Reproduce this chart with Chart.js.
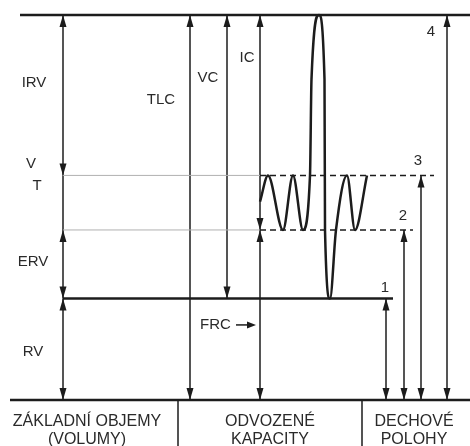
<!DOCTYPE html>
<html>
<head>
<meta charset="utf-8">
<script src="https://cdn.jsdelivr.net/npm/chart.js@4"></script>
<style>
  html, body { margin: 0; padding: 0; background: #fff; }
  #wrap { width: 470px; height: 446px; }
</style>
</head>
<body>
<div id="wrap"><canvas id="chart"></canvas></div>
<script>
// lung volume levels (arbitrary L): baseline, RV, FRC, end of tidal inspiration, TLC
const levels = [0, 1.58, 2.65, 3.5, 6.0];
const [BASE, RV_TOP, FRC_TOP, VT_TOP, TLC_TOP] = levels;

// spirogram trace (time in s, volume)
const traceTime = [26.0, 26.8, 28.3, 29.3, 30.3, 31.0, 31.15, 31.9, 32.45, 32.5, 33.0, 33.6, 34.7, 35.5, 36.7];
const traceVolume = [3.09, 3.5, 2.65, 3.5, 2.65, 3.5, 5.0, 6.0, 5.0, 2.65, 1.58, 2.65, 3.5, 2.65, 3.5];

// double-headed arrows: column position, lower level, upper level
const spanX = [6.3, 6.3, 6.3, 19.0, 22.7, 26.0, 26.0, 38.6, 40.4, 42.1, 44.7];
const spanFrom = [VT_TOP, RV_TOP, BASE, BASE, RV_TOP, FRC_TOP, BASE, BASE, BASE, BASE, BASE];
const spanTo = [TLC_TOP, FRC_TOP, RV_TOP, TLC_TOP, TLC_TOP, TLC_TOP, FRC_TOP, RV_TOP, FRC_TOP, VT_TOP, TLC_TOP];

// text labels
const labelText = ["IRV", "TLC", "VC", "IC", "V", "T", "ERV", "RV", "1", "2", "3", "4"];
const labelX = [3.4, 16.1, 20.8, 24.7, 3.1, 3.7, 3.3, 3.3, 38.5, 40.3, 41.8, 43.1];
const labelY = [4.94, 4.675, 5.02, 5.33, 3.68, 3.34, 2.15, 0.75, 1.745, 2.87, 3.725, 5.735];

// bottom categories
const groupNames = [["ZÁKLADNÍ OBJEMY", "(VOLUMY)"], ["ODVOZENÉ", "KAPACITY"], ["DECHOVÉ", "POLOHY"]];
const groupX = [8.7, 27.0, 41.4];
const dividerX = [17.8, 36.2];

const INK = "#1c1c1c";

function seg(x1, y1, x2, y2, width, color, dash) {
  return {
    data: [{ x: x1, y: y1 }, { x: x2, y: y2 }],
    borderColor: color || INK,
    borderWidth: width,
    borderDash: dash || [],
    pointRadius: 0,
    tension: 0,
    clip: false,
  };
}

const datasets = [];
// horizontal levels
datasets.push(seg(2.0, TLC_TOP, 47, TLC_TOP, 2.5));
datasets.push(seg(1.0, BASE, 47, BASE, 2.5));
datasets.push(seg(6.3, RV_TOP, 39.3, RV_TOP, 2.5));
datasets.push(seg(6.3, VT_TOP, 26.0, VT_TOP, 1, "#b0b0b0"));
datasets.push(seg(26.0, VT_TOP, 43.4, VT_TOP, 1.5, INK, [6, 4]));
datasets.push(seg(6.3, FRC_TOP, 26.0, FRC_TOP, 1, "#b0b0b0"));
datasets.push(seg(26.0, FRC_TOP, 41.3, FRC_TOP, 1.5, INK, [6, 4]));
// tidal part of the first column
datasets.push(seg(6.3, FRC_TOP, 6.3, VT_TOP, 1.5));
// arrows shafts
spanX.forEach((x, i) => datasets.push(seg(x, spanFrom[i], x, spanTo[i], 1.5)));
// dividers under the baseline
dividerX.forEach((x) => datasets.push(seg(x, BASE, x, -0.72, 1.5)));
// spirogram
datasets.push({
  data: traceTime.map((t, i) => ({ x: t, y: traceVolume[i] })),
  borderColor: INK,
  borderWidth: 2.5,
  pointRadius: 0,
  cubicInterpolationMode: "monotone",
  clip: false,
});

// arrowheads + texts
const annotations = {
  id: "annotations",
  afterDatasetsDraw(chart) {
    const { ctx, scales: { x, y } } = chart;
    ctx.save();
    ctx.fillStyle = INK;
    const head = (px, py, dir) => {
      // dir: -1 up, 1 down
      ctx.beginPath();
      ctx.moveTo(px, py);
      ctx.lineTo(px - 3.5, py - dir * 12);
      ctx.lineTo(px + 3.5, py - dir * 12);
      ctx.closePath();
      ctx.fill();
    };
    spanX.forEach((sx, i) => {
      const px = x.getPixelForValue(sx);
      head(px, y.getPixelForValue(spanTo[i]), -1);
      head(px, y.getPixelForValue(spanFrom[i]), 1);
    });

    ctx.fillStyle = "#2a2a2a";
    ctx.font = "15px 'Liberation Sans', Arial, sans-serif";
    ctx.textAlign = "center";
    ctx.textBaseline = "middle";
    labelText.forEach((t, i) => {
      ctx.fillText(t, x.getPixelForValue(labelX[i]), y.getPixelForValue(labelY[i]));
    });

    // FRC with arrow
    const fy = y.getPixelForValue(1.17);
    ctx.textAlign = "left";
    ctx.fillText("FRC", x.getPixelForValue(20.0), fy);
    const ax1 = x.getPixelForValue(23.6), ax2 = x.getPixelForValue(25.6);
    ctx.strokeStyle = INK;
    ctx.lineWidth = 1.5;
    ctx.beginPath();
    ctx.moveTo(ax1, fy);
    ctx.lineTo(ax2 - 6, fy);
    ctx.stroke();
    ctx.fillStyle = INK;
    ctx.beginPath();
    ctx.moveTo(ax2, fy);
    ctx.lineTo(ax2 - 9, fy - 3.5);
    ctx.lineTo(ax2 - 9, fy + 3.5);
    ctx.closePath();
    ctx.fill();

    // bottom categories
    ctx.fillStyle = "#2a2a2a";
    ctx.font = "16px 'Liberation Sans', Arial, sans-serif";
    ctx.textAlign = "center";
    groupNames.forEach((g, i) => {
      const gx = x.getPixelForValue(groupX[i]);
      ctx.fillText(g[0], gx, y.getPixelForValue(-0.343));
      ctx.fillText(g[1], gx, y.getPixelForValue(-0.623));
    });
    ctx.restore();
  },
};

new Chart(document.getElementById("chart"), {
  type: "line",
  data: { datasets },
  options: {
    animation: false,
    responsive: true,
    maintainAspectRatio: false,
    layout: { padding: { top: 15, bottom: 46, left: 0, right: 0 } },
    plugins: { legend: { display: false }, tooltip: { enabled: false } },
    scales: {
      x: { type: "linear", min: 0, max: 47, display: false },
      y: { min: 0, max: 6, display: false },
    },
  },
  plugins: [annotations],
});
</script>
</body>
</html>
